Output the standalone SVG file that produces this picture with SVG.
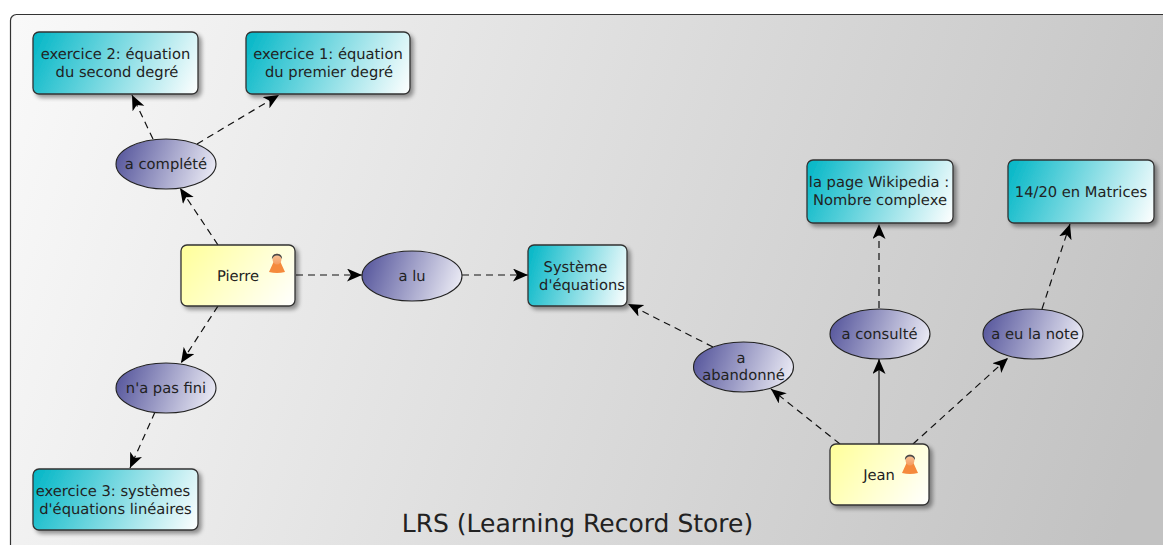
<svg xmlns="http://www.w3.org/2000/svg" width="1163" height="547" viewBox="0 0 1163 547">
<defs>
<linearGradient id="bg" gradientUnits="userSpaceOnUse" x1="0" y1="0" x2="1163" y2="400"><stop offset="0" stop-color="#fafafa"/><stop offset="1" stop-color="#c2c2c2"/></linearGradient>
<linearGradient id="teal" x1="0" y1="0" x2="1.140" y2="0.200"><stop offset="0" stop-color="#00b6c6"/><stop offset="1" stop-color="#ffffff"/></linearGradient>
<linearGradient id="yel" x1="0" y1="0" x2="1.207" y2="0.517"><stop offset="0" stop-color="#ffff99"/><stop offset="1" stop-color="#ffffff"/></linearGradient>
<linearGradient id="pur" x1="0" y1="0" x2="1.140" y2="0.200"><stop offset="0" stop-color="#4f4f98"/><stop offset="1" stop-color="#f4f4fa"/></linearGradient>
<linearGradient id="skin" x1="0" y1="0" x2="0" y2="1"><stop offset="0" stop-color="#f8c8a0"/><stop offset="1" stop-color="#f59a5c"/></linearGradient>
<filter id="sh" x="-15%" y="-15%" width="135%" height="140%"><feGaussianBlur in="SourceAlpha" stdDeviation="2"/><feOffset dx="3" dy="3"/><feComponentTransfer><feFuncA type="linear" slope="0.4"/></feComponentTransfer><feMerge><feMergeNode/><feMergeNode in="SourceGraphic"/></feMerge></filter>
<marker id="arr" markerWidth="18" markerHeight="14" refX="15" refY="6.500" orient="auto" markerUnits="userSpaceOnUse"><path d="M0,0 L15,6.500 L0,13 L4,6.500 Z" fill="#000"/></marker>
<g id="user"><path d="M-3,-2 L3,-2 L8,9 Q0,11 -8,9Z" fill="#f58a3c"/><ellipse cx="0" cy="-4" rx="4.500" ry="5.500" fill="url(#skin)"/><path d="M-5,-4 C-6,-11 6,-11 5,-4 Q3,-8 0,-7.500 Q-3,-8 -5,-4Z" fill="#4a4a4a"/></g>
</defs>
<style>
.n{stroke:#333;stroke-width:1.3;filter:url(#sh)}
.e{stroke:#222;stroke-width:1.1}
text{font-family:"DejaVu Sans",sans-serif;font-size:14.700px;fill:#222;text-anchor:middle;text-rendering:geometricPrecision}
.c line{stroke:#111;stroke-width:1.2;stroke-dasharray:7 5;marker-end:url(#arr)}
</style>
<rect x="10.500" y="14.500" width="1170" height="560" rx="6" fill="url(#bg)" stroke="#333" stroke-width="1.200"/>
<rect x="0" y="545" width="1163" height="2" fill="#fff"/>
<g id="connectors" class="c">
<line x1="153" y1="139" x2="132" y2="95"/>
<line x1="197" y1="144" x2="279" y2="95"/>
<line x1="218" y1="245" x2="180" y2="188"/>
<line x1="218" y1="306" x2="181" y2="363"/>
<line x1="155" y1="412" x2="130" y2="468"/>
<line x1="296" y1="275" x2="362" y2="275"/>
<line x1="462" y1="275" x2="528" y2="275"/>
<line x1="713" y1="347" x2="628" y2="304"/>
<line x1="840" y1="444" x2="771" y2="389"/>
<line x1="879" y1="444" x2="879" y2="359" style="stroke-dasharray:none"/>
<line x1="879" y1="308" x2="879" y2="224"/>
<line x1="913" y1="444" x2="1008" y2="358"/>
<line x1="1042" y1="309" x2="1070" y2="224"/>
</g>
<g id="ex2"><rect class="n" x="33" y="32" width="165" height="62" rx="6" fill="url(#teal)"/><text x="115.500" y="59">exercice 2: équation</text><text x="117" y="77">du second degré</text></g>
<g id="ex1"><rect class="n" x="246" y="32" width="164" height="62" rx="6" fill="url(#teal)"/><text x="328" y="59">exercice 1: équation</text><text x="329" y="77">du premier degré</text></g>
<g id="wiki"><rect class="n" x="807" y="160" width="146" height="63" rx="6" fill="url(#teal)"/><text x="879" y="187">la page Wikipedia :</text><text x="880" y="205">Nombre complexe</text></g>
<g id="note"><rect class="n" x="1008" y="160" width="146" height="63" rx="6" fill="url(#teal)"/><text x="1081" y="197">14/20 en Matrices</text></g>
<g id="sys"><rect class="n" x="528" y="245" width="99" height="61" rx="6" fill="url(#teal)"/><text x="575.500" y="272">Système</text><text x="582" y="290">d'équations</text></g>
<g id="ex3"><rect class="n" x="33" y="469" width="165" height="61" rx="6" fill="url(#teal)"/><text x="113" y="496">exercice 3: systèmes</text><text x="115.500" y="514">d'équations linéaires</text></g>
<g id="pierre"><rect class="n" x="181" y="245" width="114" height="61" rx="6" fill="url(#yel)"/><text x="238" y="281">Pierre</text><use href="#user" x="277" y="263"/></g>
<g id="jean"><rect class="n" x="830" y="444" width="99" height="61" rx="6" fill="url(#yel)"/><text x="879" y="480">Jean</text><use href="#user" x="910" y="464"/></g>
<g id="complete"><ellipse class="e" cx="166" cy="164" rx="50" ry="25" fill="url(#pur)"/><text x="166" y="169">a complété</text></g>
<g id="nonfini"><ellipse class="e" cx="166" cy="388" rx="50" ry="25" fill="url(#pur)"/><text x="166" y="393">n'a pas fini</text></g>
<g id="alu"><ellipse class="e" cx="412" cy="276" rx="50" ry="25" fill="url(#pur)"/><text x="412" y="281">a lu</text></g>
<g id="abandon"><ellipse class="e" cx="743.500" cy="367" rx="50" ry="25" fill="url(#pur)"/><text x="741" y="363">a</text><text x="743.500" y="380">abandonné</text></g>
<g id="consulte"><ellipse class="e" cx="880" cy="334" rx="50" ry="25" fill="url(#pur)"/><text x="879.500" y="339">a consulté</text></g>
<g id="eunote"><ellipse class="e" cx="1033" cy="334" rx="50" ry="25" fill="url(#pur)"/><text x="1035" y="339">a eu la note</text></g>
<text x="577.500" y="532" style="font-size:25px">LRS (Learning Record Store)</text>
</svg>
